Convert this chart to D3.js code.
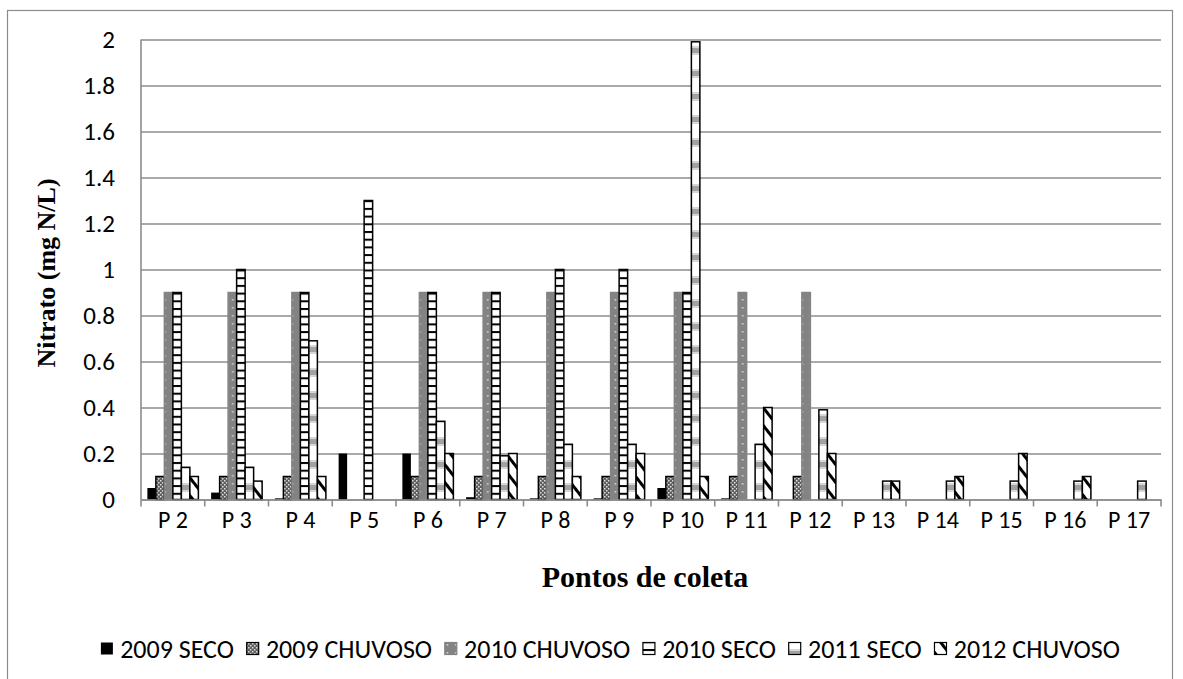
<!DOCTYPE html>
<html>
<head>
<meta charset="utf-8">
<script src="https://cdn.jsdelivr.net/npm/d3@7"></script>
<style>
  body { margin: 0; background: #fff; }
  svg { display: block; }
</style>
</head>
<body>
<svg width="1183" height="679"></svg>
<script>
// data
const categories = ["P 2", "P 3", "P 4", "P 5", "P 6", "P 7", "P 8", "P 9", "P 10", "P 11", "P 12", "P 13", "P 14", "P 15", "P 16", "P 17"];
const seriesNames = ["2009 SECO", "2009 CHUVOSO", "2010 CHUVOSO", "2010 SECO", "2011 SECO", "2012 CHUVOSO"];

const seco2009     = [0.05, 0.03, 0.005, 0.2, 0.2, 0.01, 0.005, 0.005, 0.05, 0.005, 0, 0, 0, 0, 0, 0];
const chuvoso2009  = [0.1, 0.1, 0.1, 0, 0.1, 0.1, 0.1, 0.1, 0.1, 0.1, 0.1, 0, 0, 0, 0, 0];
const chuvoso2010  = [0.9, 0.9, 0.9, 0, 0.9, 0.9, 0.9, 0.9, 0.9, 0.9, 0.9, 0, 0, 0, 0, 0];
const seco2010     = [0.9, 1.0, 0.9, 1.3, 0.9, 0.9, 1.0, 1.0, 0.9, 0, 0, 0, 0, 0, 0, 0];
const seco2011     = [0.14, 0.14, 0.69, 0, 0.34, 0.19, 0.24, 0.24, 1.99, 0.24, 0.39, 0.08, 0.08, 0.08, 0.08, 0.08];
const chuvoso2012  = [0.1, 0.08, 0.1, 0, 0.2, 0.2, 0.1, 0.2, 0.1, 0.4, 0.2, 0.08, 0.1, 0.2, 0.1, 0];

const yTicks = [0, 0.2, 0.4, 0.6, 0.8, 1, 1.2, 1.4, 1.6, 1.8, 2];

const allSeries = [seco2009, chuvoso2009, chuvoso2010, seco2010, seco2011, chuvoso2012];

const SANS = "Carlito, Lato, 'Open Sans', sans-serif";
const SERIF = "'Liberation Serif', 'DejaVu Serif', serif";
const GRID = "#8c8c8c";

// plot area
const m = { top: 39.5, left: 141, right: 1161, bottom: 499.5 };

var svg = d3.select("svg");

/*=========================================================================
Patterns
=========================================================================*/
var defs = svg.append("defs");

// 2009 CHUVOSO - small checker
var p1 = defs.append("pattern").attr("id", "pat1")
    .attr("patternUnits", "userSpaceOnUse").attr("width", 4).attr("height", 4);
p1.append("rect").attr("width", 4).attr("height", 4).attr("fill", "#5e5e5e");
p1.append("rect").attr("x", 0).attr("y", 0).attr("width", 1.5).attr("height", 1.5).attr("fill", "#e0e0e0");
p1.append("rect").attr("x", 2).attr("y", 2).attr("width", 1.5).attr("height", 1.5).attr("fill", "#e0e0e0");

// 2010 CHUVOSO - gray with sparse light dots
var p2 = defs.append("pattern").attr("id", "pat2")
    .attr("patternUnits", "userSpaceOnUse").attr("width", 8.5).attr("height", 8);
p2.append("rect").attr("width", 8.5).attr("height", 8).attr("fill", "#838383");
p2.append("rect").attr("x", 2.5).attr("y", 3).attr("width", 1.6).attr("height", 1.6).attr("fill", "#d4d4d4");

// 2010 SECO - horizontal ladder
var p3 = defs.append("pattern").attr("id", "pat3")
    .attr("patternUnits", "userSpaceOnUse").attr("width", 10).attr("height", 7.7);
p3.append("rect").attr("width", 10).attr("height", 7.7).attr("fill", "#fff");
p3.append("rect").attr("y", 0).attr("width", 10).attr("height", 2).attr("fill", "#000");

// 2011 SECO - white with soft gray bands
var p4 = defs.append("pattern").attr("id", "pat4")
    .attr("patternUnits", "userSpaceOnUse").attr("width", 10).attr("height", 23);
p4.append("rect").attr("width", 10).attr("height", 23).attr("fill", "#fff");
p4.append("rect").attr("y", 0).attr("width", 10).attr("height", 9).attr("fill", "#d6d6d6");
p4.append("rect").attr("y", 2).attr("width", 10).attr("height", 5).attr("fill", "#a2a2a2");

// 2012 CHUVOSO - diagonal stripes
var p5 = defs.append("pattern").attr("id", "pat5")
    .attr("patternUnits", "userSpaceOnUse").attr("width", 20).attr("height", 11)
    .attr("patternTransform", "rotate(52)");
p5.append("rect").attr("width", 20).attr("height", 11).attr("fill", "#fff");
p5.append("rect").attr("width", 20).attr("height", 3).attr("fill", "#000");

const fills = ["#000", "url(#pat1)", "url(#pat2)", "url(#pat3)", "url(#pat4)", "url(#pat5)"];
const strokes = ["#000", "#000", "#838383", "#000", "#000", "#000"];

/*=========================================================================
Frame
=========================================================================*/
svg.append("rect")
    .attr("x", 7.5).attr("y", 10.5)
    .attr("width", 1165).attr("height", 690)
    .attr("fill", "none")
    .attr("stroke", "#8c8c8c")
    .attr("stroke-width", 1.2);

/*=========================================================================
Scales
=========================================================================*/
var x0 = d3.scaleBand()
    .domain(categories)
    .range([m.left, m.right]);

var x1 = d3.scaleBand()
    .domain(seriesNames)
    .range([0, x0.bandwidth()])
    .paddingInner(0)
    .paddingOuter(0.75);

var y = d3.scaleLinear()
    .domain([0, 2])
    .range([m.bottom, m.top]);

// gridlines + y labels
var yAxis = svg.append("g")
    .attr("transform", `translate(${m.left},0)`)
    .call(d3.axisLeft(y).tickValues(yTicks).tickSize(-(m.right - m.left)).tickPadding(26)
        .tickFormat(d => d3.format("")(+d.toFixed(1))));
yAxis.select(".domain").remove();
yAxis.selectAll(".tick line")
    .attr("stroke", GRID)
    .attr("stroke-width", 1.6);
yAxis.selectAll(".tick text")
    .attr("font-family", SANS)
    .attr("font-size", 25)
    .attr("fill", "#000");

// vertical axis line
svg.append("line")
    .attr("x1", m.left).attr("x2", m.left)
    .attr("y1", m.top).attr("y2", m.bottom)
    .attr("stroke", GRID).attr("stroke-width", 1.6);

/*=========================================================================
Bars
=========================================================================*/
var rows = [];
categories.forEach(function (c, i) {
    seriesNames.forEach(function (s, j) {
        rows.push({ cat: c, series: s, idx: j, value: allSeries[j][i] });
    });
});

svg.append("g")
    .attr("class", "bars")
    .selectAll("rect")
    .data(rows.filter(d => d.value > 0))
    .enter().append("rect")
    .attr("x", d => x0(d.cat) + x1(d.series))
    .attr("y", d => y(d.value))
    .attr("width", x1.bandwidth())
    .attr("height", d => y(0) - y(d.value))
    .attr("fill", d => fills[d.idx])
    .attr("stroke", d => strokes[d.idx])
    .attr("stroke-width", d => d.idx == 0 ? 0 : 1.5);

/*=========================================================================
X axis
=========================================================================*/
var xAxis = svg.append("g")
    .attr("transform", `translate(0,${m.bottom})`)
    .call(d3.axisBottom(x0).tickSize(0).tickPadding(11));
xAxis.select(".domain")
    .attr("stroke", GRID).attr("stroke-width", 1.6);
xAxis.selectAll(".tick text")
    .attr("font-family", SANS)
    .attr("font-size", 24)
    .attr("fill", "#000");

// tick marks at category boundaries
var bounds = categories.map(c => x0(c)).concat([m.right]);
svg.append("g")
    .selectAll("line")
    .data(bounds)
    .enter().append("line")
    .attr("x1", d => d).attr("x2", d => d)
    .attr("y1", m.bottom).attr("y2", m.bottom + 7)
    .attr("stroke", GRID).attr("stroke-width", 1.6);

// axis titles
svg.append("text")
    .attr("x", 645)
    .attr("y", 587)
    .attr("text-anchor", "middle")
    .attr("font-family", SERIF)
    .attr("font-weight", "bold")
    .attr("font-size", 30)
    .text("Pontos de coleta");

svg.append("text")
    .attr("transform", "translate(55,273) rotate(-90)")
    .attr("text-anchor", "middle")
    .attr("font-family", SERIF)
    .attr("font-weight", "bold")
    .attr("font-size", 26)
    .text("Nitrato (mg N/L)");

/*=========================================================================
Legend
=========================================================================*/
var legend = svg.append("g").attr("class", "legend");
var lx = 0;
seriesNames.forEach(function (s, j) {
    var g = legend.append("g").attr("transform", `translate(${lx},0)`);
    g.append("rect")
        .attr("x", 0.75).attr("y", -6.5)
        .attr("width", 12).attr("height", 12)
        .attr("fill", fills[j])
        .attr("stroke", strokes[j])
        .attr("stroke-width", j == 0 ? 0 : 1.2);
    var t = g.append("text")
        .attr("x", 20)
        .attr("y", 0)
        .attr("dy", "0.35em")
        .attr("font-family", SANS)
        .attr("font-size", 26)
        .text(s);
    lx += 20 + t.node().getComputedTextLength() + 12;
});
lx -= 12;
legend.attr("transform", `translate(${610 - lx / 2},649)`);
</script>
</body>
</html>
